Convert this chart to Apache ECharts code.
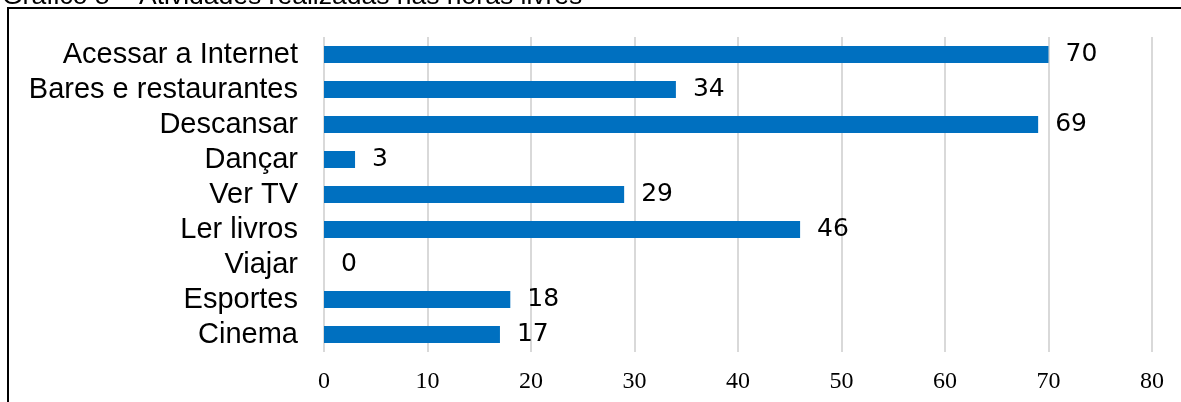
<!DOCTYPE html>
<html>
<head>
<meta charset="utf-8">
<script src="https://cdn.jsdelivr.net/npm/echarts@6/dist/echarts.min.js"></script>
<style>
  html, body { margin: 0; padding: 0; background: #fff; }
  #chart { width: 1181px; height: 402px; }
</style>
</head>
<body>
<div id="chart"></div>
<script>
// Atividades (de baixo para cima na ordem do eixo de categorias)
const categories = ['Cinema', 'Esportes', 'Viajar', 'Ler livros', 'Ver TV', 'Dançar', 'Descansar', 'Bares e restaurantes', 'Acessar a Internet'];
const values = [17, 18, 0, 46, 29, 3, 69, 34, 70];
const xTicks = { min: 0, max: 80, interval: 10 };
const titleText = 'Gráfico 8 – Atividades realizadas nas horas livres';

const chart = echarts.init(document.getElementById('chart'), null, { renderer: 'canvas' });

chart.setOption({
  animation: false,
  backgroundColor: '#ffffff',
  graphic: [
    {
      type: 'text',
      x: 2,
      y: 10,
      style: {
        text: titleText,
        fontSize: 26.5,
        fontFamily: '"Liberation Sans", Arial, sans-serif',
        fill: '#000',
        verticalAlign: 'bottom'
      }
    },
    {
      type: 'rect',
      shape: { x: 8, y: 8, width: 1300, height: 600 },
      style: { fill: '#fff', stroke: '#000', lineWidth: 2 }
    }
  ],
  grid: { left: 324, right: 29, top: 37, bottom: 50, containLabel: false },
  xAxis: {
    type: 'value',
    min: xTicks.min,
    max: xTicks.max,
    interval: xTicks.interval,
    axisLine: { show: false },
    axisTick: { show: false },
    axisLabel: {
      margin: 18,
      fontFamily: '"Liberation Serif", "Times New Roman", serif',
      fontSize: 24,
      color: '#000'
    },
    splitLine: { show: true, lineStyle: { color: '#d9d9d9', width: 2 } }
  },
  yAxis: {
    type: 'category',
    data: categories,
    axisLine: { show: false },
    axisTick: { show: false },
    axisLabel: {
      interval: 0,
      margin: 26,
      fontFamily: '"Liberation Sans", Arial, sans-serif',
      fontSize: 29,
      color: '#000'
    }
  },
  series: [{
    type: 'bar',
    data: values,
    barWidth: 17,
    itemStyle: { color: '#0070C0' },
    label: {
      show: true,
      position: 'right',
      distance: 17,
      fontFamily: '"DejaVu Sans", sans-serif',
      fontSize: 25,
      color: '#000'
    }
  }]
});
</script>
</body>
</html>
